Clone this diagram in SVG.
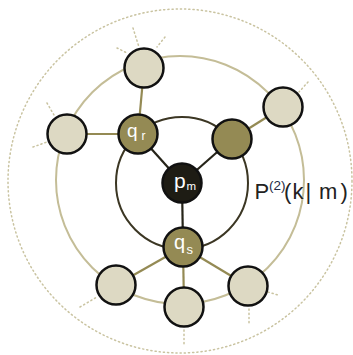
<svg xmlns="http://www.w3.org/2000/svg" width="353" height="355" viewBox="0 0 353 355">
<style>
.dot{fill:none;stroke:#c9c3a0;stroke-width:1.5;stroke-dasharray:1.2 3;stroke-linecap:round}
.ring{fill:none;stroke:#c4bd97;stroke-width:2}
.inner{fill:none;stroke:#3b3623;stroke-width:2}
.e1{stroke:#948a54;stroke-width:2.2}
.e2{stroke:#262419;stroke-width:2.2}
.light{fill:#ddd9c3;stroke:#111;stroke-width:2.5}
.olive{fill:#948a54;stroke:#111;stroke-width:2.5}
.dark{fill:#1e1c14;stroke:#111;stroke-width:2.5}
.lbl{fill:#fff;font-family:"Liberation Sans",Arial,sans-serif}
.txt{fill:#222;font-family:"Liberation Sans",Arial,sans-serif}
</style>
<rect width="353" height="355" fill="#fff"/>
<circle class="dot" cx="180" cy="181" r="172"/>
<circle class="ring" cx="180" cy="180" r="124"/>
<circle class="inner" cx="182" cy="183" r="66"/>
<g id="connectors">
<g class="dot">
<line x1="133" y1="28" x2="139" y2="47"/>
<line x1="165" y1="37" x2="157" y2="47"/>
<line x1="117" y1="48" x2="127" y2="53"/>
<line x1="47" y1="103" x2="54" y2="115"/>
<line x1="33" y1="147" x2="47" y2="142"/>
<line x1="308" y1="82" x2="299" y2="92"/>
<line x1="80" y1="307" x2="97" y2="297"/>
<line x1="184" y1="330" x2="184" y2="344"/>
<line x1="249" y1="309" x2="249" y2="325"/>
<line x1="268" y1="292" x2="278" y2="295"/>
</g>
<line class="e1" x1="138" y1="134" x2="144" y2="68"/>
<line class="e1" x1="138" y1="134" x2="67" y2="134"/>
<line class="e1" x1="232" y1="139" x2="283" y2="107"/>
<line class="e1" x1="183" y1="247" x2="116" y2="285"/>
<line class="e1" x1="183" y1="247" x2="184" y2="307"/>
<line class="e1" x1="183" y1="247" x2="248" y2="286"/>
<line class="e2" x1="182" y1="183" x2="138" y2="134"/>
<line class="e2" x1="182" y1="183" x2="232" y2="139"/>
<line class="e2" x1="182" y1="183" x2="183" y2="247"/>
</g>
<g id="n_top"><circle class="light" cx="144" cy="68" r="19.5"/></g>
<g id="n_left"><circle class="light" cx="67" cy="134" r="19.5"/></g>
<g id="n_rtop"><circle class="light" cx="283" cy="107" r="19.5"/></g>
<g id="n_bl"><circle class="light" cx="116" cy="285" r="19.5"/></g>
<g id="n_bm"><circle class="light" cx="184" cy="307" r="19.5"/></g>
<g id="n_br"><circle class="light" cx="248" cy="286" r="19.5"/></g>
<g id="n_qr"><circle class="olive" cx="138" cy="134" r="19.5"/>
<text class="lbl" x="127" y="137" font-size="19">q<tspan font-size="12" x="141.5" y="140">r</tspan></text></g>
<g id="n_right"><circle class="olive" cx="232" cy="139" r="19.5"/></g>
<g id="n_qs"><circle class="olive" cx="183" cy="247" r="19.5"/>
<text class="lbl" x="174" y="249" font-size="20">q<tspan font-size="13" x="186.5" y="254">s</tspan></text></g>
<g id="n_pm"><circle class="dark" cx="182" cy="183" r="19.5"/>
<text class="lbl" x="174" y="188" font-size="21">p<tspan font-size="11.5" x="186.5" y="190">m</tspan></text></g>
<g id="label">
<text class="txt" font-size="22" y="199"><tspan x="254.5">P</tspan><tspan x="269" y="190" font-size="13.5" fill="#1f2a44">(2)</tspan><tspan x="284" y="199">(</tspan><tspan x="292.5">k</tspan><tspan x="305.5">|</tspan><tspan x="319">m</tspan><tspan x="340.5">)</tspan></text>
</g>
</svg>
